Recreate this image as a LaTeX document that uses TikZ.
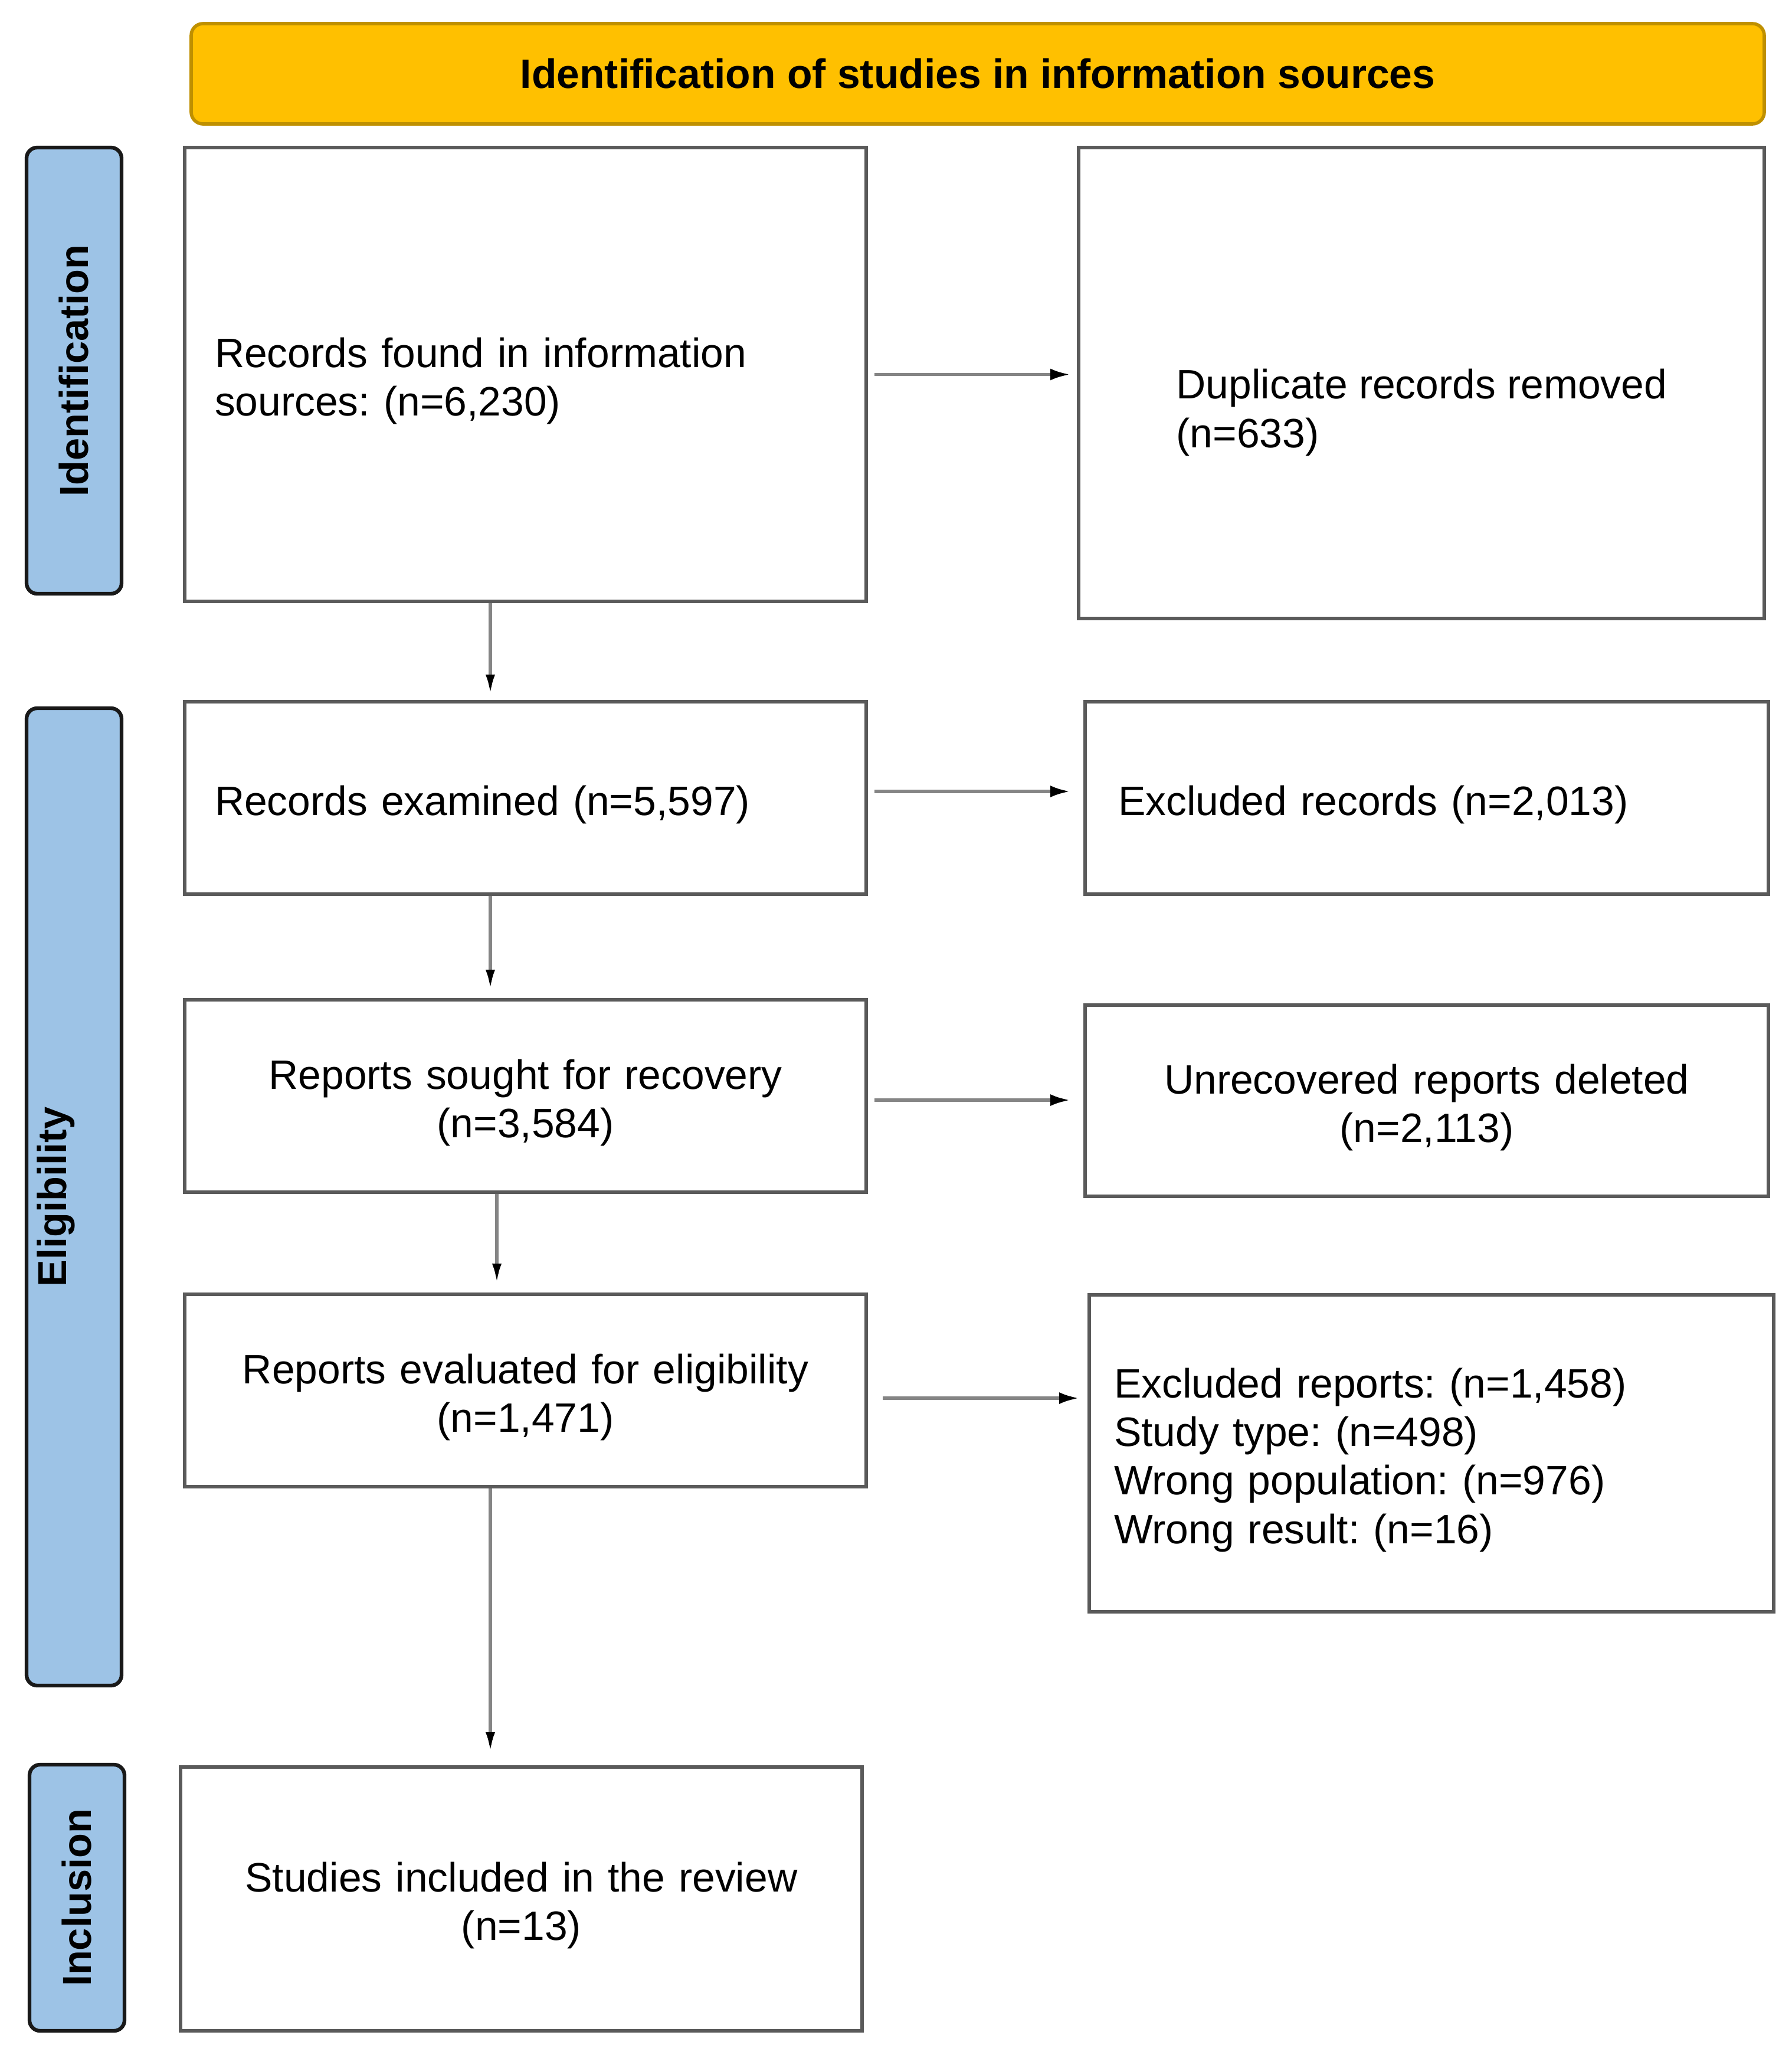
\documentclass[tikz,border=0pt]{standalone}
\usepackage{xcolor}
\usepackage{fontspec}
\setmainfont{Liberation Sans}
\usepackage{tikz}
\usetikzlibrary{positioning,arrows.meta}
\frenchspacing
\definecolor{headFill}{HTML}{FFC000}
\definecolor{headEdge}{HTML}{BF9000}
\definecolor{phaseFill}{HTML}{9DC3E6}
\definecolor{boxEdge}{HTML}{5A5A5A}
\definecolor{arrowGray}{HTML}{858585}
\tikzstyle{flowBox} = [draw=boxEdge, line width=1.7pt, rectangle, inner sep=0pt,
	minimum width=11.55cm, minimum height=3.26cm, text width=10.5cm, align=center,
	execute at begin node={\rule{0pt}{20.9pt}},	% Text etwas tiefer
	execute at end node={\rule[-4.3pt]{0pt}{0pt}},
	font=\fontsize{19.8}{23.4}\selectfont]
\tikzstyle{plainTxt} = [inner sep=0pt, align=left, font=\fontsize{19.8}{23.4}\selectfont]
\tikzstyle{phaseBar} = [draw=black!90, fill=phaseFill, line width=1.8pt, rounded corners=0.18cm,
	rotate=90, minimum height=1.61cm, inner sep=0pt, font=\fontsize{19.5}{23.4}\selectfont\bfseries]
\tikzstyle{phaseTxt} = [rotate=90, inner sep=0pt, font=\fontsize{19.5}{23.4}\selectfont\bfseries]
\tikzstyle{headBar} = [draw=headEdge, fill=headFill, line width=1.6pt, rounded corners=0.2cm,
	minimum width=26.66cm, minimum height=1.7cm, font=\fontsize{19.8}{23.4}\selectfont\bfseries]
\tikzstyle{flowArrow} = [draw=arrowGray, line width=1.6pt,
	-{Latex[length=0.34cm,width=0.2cm,color=black]}]
\tikzstyle{downArrow} = [draw=arrowGray, line width=1.6pt,
	-{Latex[length=0.34cm,width=0.16cm,color=black]}]

\begin{document}
\begin{tikzpicture}
		\useasboundingbox (0,0) rectangle (30.37,-35.04);
		% header and phases
		\node[headBar] (head) at (16.57,-1.25) {Identification of studies in information sources};
		\node[phaseBar, minimum width=7.56cm] (phaseId) at (1.255,-6.28) {Identification};
		\node[phaseBar, minimum width=16.56cm] (phaseElig) at (1.255,-20.28) {};
		\node[phaseTxt] (eligTxt) at ([xshift=-0.31cm]phaseElig.center) {Eligibility};	% Text sitzt links
		\node[phaseBar, minimum width=4.51cm] (phaseInc) at (1.305,-32.155) {Inclusion};
		
		% left column
		\node[flowBox, minimum height=7.69cm, text width=10.53cm, align=left] (found) at (8.905,-6.345) {Records found in information\\sources: (n=6,230)};
		\node[flowBox, node distance=7.175cm, below of=found, text width=10.53cm, align=left] (exam) {Records examined (n=5,597)};
		\node[flowBox, node distance=5.05cm, below of=exam] (sought) {Reports sought for recovery\\(n=3,584)};
		\node[flowBox, node distance=4.99cm, below of=sought] (eval) {Reports evaluated for eligibility\\(n=1,471)};
		\node[flowBox, node distance=8.615cm, below of=eval, xshift=-0.07cm, minimum height=4.47cm] (incl) {Studies included in the review\\(n=13)};
		
		% right column
		\node[flowBox, node distance=15.185cm, right of=found, yshift=-0.145cm, minimum width=11.62cm, minimum height=7.98cm] (dup) {};
		\node[plainTxt, anchor=west] (dupTxt) at ([xshift=1.68cm,yshift=-0.5cm]dup.west) {Duplicate records removed\\(n=633)};
		\node[flowBox, node distance=15.275cm, right of=exam, minimum width=11.58cm, text width=10.46cm, align=left] (exRec) {Excluded records (n=2,013)};
		\node[flowBox, node distance=15.275cm, right of=sought, yshift=-0.08cm, minimum width=11.58cm, minimum height=3.24cm] (unrec) {Unrecovered reports deleted\\(n=2,113)};
		\node[flowBox, node distance=15.355cm, right of=eval, yshift=-1.065cm, minimum width=11.6cm, minimum height=5.37cm, text width=10.76cm, align=left] (exRep) {Excluded reports: (n=1,458)\\Study type: (n=498)\\Wrong population: (n=976)\\Wrong result: (n=16)};
		
		% arrows to the right
		\coordinate (r1) at (found.east);
		\coordinate (r2) at ([yshift=0.11cm]exam.east);
		\coordinate (r3) at ([yshift=-0.07cm]sought.east);
		\coordinate (r4) at ([yshift=-0.13cm]eval.east);
		\draw[flowArrow, shorten <=0.11cm, shorten >=0.11cm] (r1) -- (r1 -| dup.west);
		\draw[flowArrow, shorten <=0.11cm, shorten >=0.22cm] (r2) -- (r2 -| exRec.west);
		\draw[flowArrow, shorten <=0.11cm, shorten >=0.22cm] (r3) -- (r3 -| unrec.west);
		\draw[flowArrow, shorten <=0.25cm, shorten >=0.14cm] (r4) -- (r4 -| exRep.west);
		
		% arrows down
		\coordinate (d1) at ([xshift=-0.595cm]found.south);
		\coordinate (d2) at ([xshift=-0.595cm]exam.south);
		\coordinate (d3) at ([xshift=-0.485cm]sought.south);
		\coordinate (d4) at ([xshift=-0.595cm]eval.south);
		\draw[downArrow, shorten >=0.09cm] (d1) -- (d1 |- exam.north);
		\draw[downArrow, shorten >=0.14cm] (d2) -- (d2 |- sought.north);
		\draw[downArrow, shorten >=0.15cm] (d3) -- (d3 |- eval.north);
		\draw[downArrow, shorten >=0.22cm] (d4) -- (d4 |- incl.north);
\end{tikzpicture}
\end{document}
